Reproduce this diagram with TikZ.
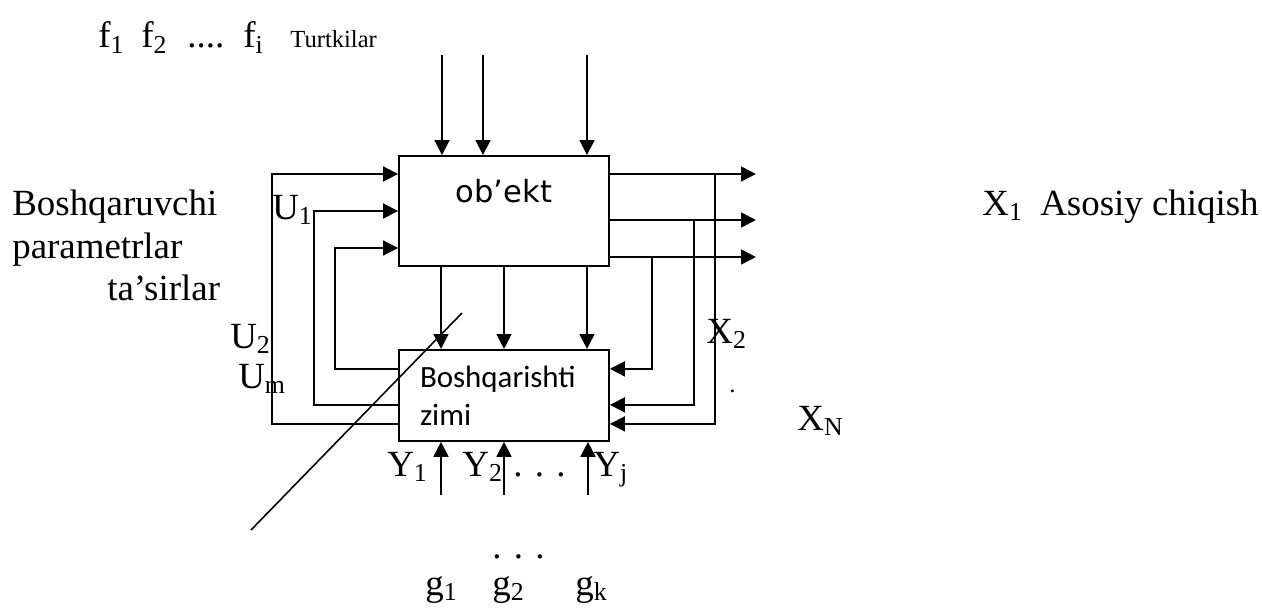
\documentclass[tikz,border=0pt]{standalone}
\usepackage{fontspec}
\setmainfont{Liberation Serif}
\newfontfamily\objfont{DejaVu Sans}
\newfontfamily\sysfont{Carlito}
\usetikzlibrary{arrows.meta, positioning, calc}

\tikzset{
    block/.style={rectangle, draw=black, line width=1.1pt, minimum width=4.2cm, inner sep=0pt},
    arrow/.style={line width=1.1pt, -{Triangle[length=8.5pt, width=8.5pt]}},
    wire/.style={line width=0.9pt},
    lbl/.style={anchor=base west, inner sep=0pt, font=\fontsize{21}{25}\selectfont},
    smalllbl/.style={anchor=base west, inner sep=0pt, font=\fontsize{14}{17}\selectfont}
}

\begin{document}
\begin{tikzpicture}[x=0.02cm, y=-0.02cm]
    \useasboundingbox (0,0) rectangle (1262,608);

    % --- Bloklar ---
    \node (obj) [block, minimum height=2.2cm, text depth=0.82cm, font=\objfont\fontsize{17.4}{20}\selectfont] at (504,211) {ob’ekt};
    \node (ctrl) [block, minimum height=1.82cm, below=1.64cm of obj, text width=3.36cm, inner xsep=0.42cm, align=left, font=\sysfont\fontsize{17.6}{21.6}\selectfont] {Boshqarishti\\zimi};

    % --- Yozuvlar ---
    \node (f1) [lbl] at (98,48) {f\textsubscript{1}};
    \node (f2) [lbl] at (141,48) {f\textsubscript{2}};
    \node (fdots) [lbl] at (187,48) {....};
    \node (fi) [lbl] at (243,48) {f\textsubscript{i}};
    \node (turtki) [smalllbl] at (290,48) {Turtkilar};

    \node (boshq) [lbl] at (12,215) {Boshqaruvchi};
    \node (param) [lbl] at (12,258) {parametrlar};
    \node (tasir) [lbl] at (107,300) {ta’sirlar};

    \node (u1) [lbl] at (272,219) {U\textsubscript{1}};
    \node (u2) [lbl] at (230,348) {U\textsubscript{2}};
    \node (um) [lbl] at (238,388) {U\textsubscript{m}};

    \node (x1) [lbl] at (982,215) {X\textsubscript{1}};
    \node (asosiy) [lbl] at (1040,215) {Asosiy chiqish};
    \node (x2) [lbl] at (706,343) {X\textsubscript{2}};
    \node (xdot) [smalllbl] at (729,392) {.};
    \node (xn) [lbl] at (797,430) {X\textsubscript{N}};

    \node (y1) [lbl] at (387,476) {Y\textsubscript{1}};
    \node (y2) [lbl] at (462,476) {Y\textsubscript{2}};
    \node (ydots) [lbl] at (513,476) {. . .};
    \node (yj) [lbl] at (593,476) {Y\textsubscript{j}};

    \node (gdots) [lbl] at (492,558) {. . .};
    \node (g1) [lbl] at (425,595) {g\textsubscript{1}};
    \node (g2) [lbl] at (492,595) {g\textsubscript{2}};
    \node (gk) [lbl] at (575,595) {g\textsubscript{k}};

    % --- Tashqi nuqtalar ---
    \coordinate (fin1) at (442,55);
    \coordinate (fin2) at (483,55);
    \coordinate (fin3) at (587,55);
    \coordinate (gin1) at (441,495);
    \coordinate (gin2) at (504,495);
    \coordinate (gin3) at (588,495);
    \coordinate (cutA) at (462,313);
    \coordinate (cutB) at (251,530);

    % --- Turtkilar ---
    \draw [arrow] (fin1) -- (fin1 |- obj.north);
    \draw [arrow] (fin2) -- (fin2 |- obj.north);
    \draw [arrow] (fin3) -- (fin3 |- obj.north);

    % --- Ob'ektdan boshqarish tizimiga ---
    \draw [arrow] ($(obj.south)+(-63,0)$) -- ($(ctrl.north)+(-63,0)$);
    \draw [arrow] (obj.south) -- (ctrl.north);
    \draw [arrow] ($(obj.south)+(83,0)$) -- ($(ctrl.north)+(83,0)$);

    % --- Boshqaruvchi ta'sirlar (chap tomondagi qaytish) ---
    \draw [arrow] ($(ctrl.west)+(0,28.5)$) -- ++(-126,0) |- ($(obj.west)+(0,-37)$);
    \draw [arrow] ($(ctrl.west)+(0,9.5)$) -- ++(-84,0) |- (obj.west);
    \draw [arrow] ($(ctrl.west)+(0,-26.5)$) -- ++(-63,0) |- ($(obj.west)+(0,37)$);

    % --- Chiqishlar ---
    \draw [arrow] ($(obj.east)+(0,-37)$) -- ++(146,0);
    \draw [arrow] ($(obj.east)+(0,9)$) -- ++(146,0);
    \draw [arrow] ($(obj.east)+(0,46)$) -- ++(146,0);

    % --- Chiqishlardan qaytish ---
    \draw [arrow] ($(obj.east)+(105,-37)$) |- ($(ctrl.east)+(0,28.5)$);
    \draw [arrow] ($(obj.east)+(84,9)$) |- ($(ctrl.east)+(0,9.5)$);
    \draw [arrow] ($(obj.east)+(42,46)$) |- ($(ctrl.east)+(0,-26.5)$);

    % --- Pastki kirishlar ---
    \draw [arrow] (gin1) -- (gin1 |- ctrl.south);
    \draw [arrow] (gin2) -- (gin2 |- ctrl.south);
    \draw [arrow] (gin3) -- (gin3 |- ctrl.south);

    % --- Kesuvchi chiziq ---
    \draw [wire] (cutA) -- (cutB);

\end{tikzpicture}
\end{document}
